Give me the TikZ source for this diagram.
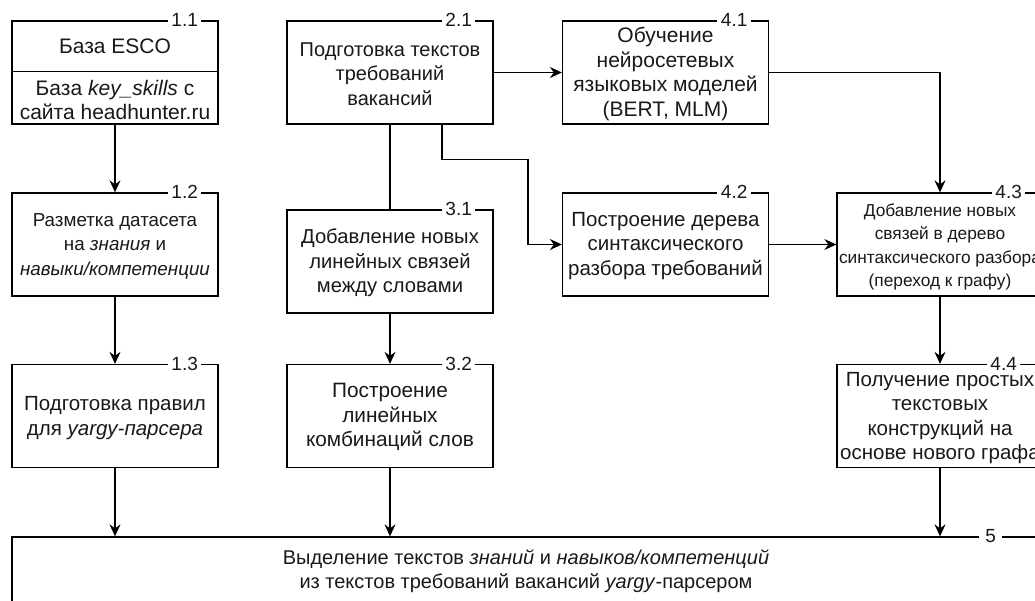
\documentclass[tikz,border=0pt]{standalone}
\usepackage{fontspec}
\setmainfont{Liberation Sans}
\usetikzlibrary{arrows.meta,calc}
\begin{document}
\begin{tikzpicture}[x=1pt,y=-1pt,
  box/.style={draw=black,line width=1.3pt,minimum width=206pt,minimum height=103pt,inner sep=0pt,anchor=center},
  txt/.style={align=center,font=\fontsize{20.5}{24.5}\selectfont,text=black!90,inner sep=0pt},
  numlbl/.style={fill=white,inner xsep=3.5pt,inner ysep=1pt,font=\fontsize{19}{19}\selectfont,text=black!90},
  link/.style={line width=1.3pt,draw=black},
  arr/.style={link,-{Stealth[length=12pt,width=11pt,inset=4pt]}}
]
\clip (0,0) rectangle (1035,600);
\fill[white] (0,0) rectangle (1035,600);
% boxes
\node[box] (b11) at (115,72.5) {};
\node[box] (b21) at (390,72.5) {};
\node[box] (b41) at (665.5,72.5) {};
\node[box] (b12) at (115,244.5) {};
\node[box] (b31) at (390,261.5) {};
\node[box] (b42) at (665.5,244.5) {};
\node[box] (b43) at (940,244.5) {};
\node[box] (b13) at (115,416) {};
\node[box] (b32) at (390,416) {};
\node[box] (b44) at (940,416) {};
\node[box,minimum width=1028pt,minimum height=70pt] (b5) at (526,572) {};
% divider in 1.1
\coordinate (d11w) at ($(b11.north west)+(0,51)$);
\coordinate (d11e) at ($(b11.north east)+(0,51)$);
\draw[link] (d11w) -- (d11e);
% texts
\node[txt,font=\fontsize{21}{24}\selectfont] (t11a) at (115,46) {База ESCO};
\node[txt,font=\fontsize{21}{24}\selectfont] (t11b) at (115,100) {База \textit{key\_skills} с\\сайта headhunter.ru};
\node[txt,font=\fontsize{20}{24.5}\selectfont] (t21) at (390,74) {Подготовка текстов\\требований\\вакансий};
\node[txt,font=\fontsize{21}{24.5}\selectfont] (t41) at (665.5,74) {Обучение\\нейросетевых\\языковых моделей\\(BERT, MLM)};
\node[txt,font=\fontsize{18.8}{24.5}\selectfont] (t12) at (115,246) {Разметка датасета\\на \textit{знания} и\\\textit{навыки/компетенции}};
\node[txt,font=\fontsize{20.2}{24.5}\selectfont] (t31) at (390,263) {Добавление новых\\линейных связей\\между словами};
\node[txt] (t42) at (665.5,246) {Построение дерева\\синтаксического\\разбора требований};
\node[txt,font=\fontsize{17.3}{23.3}\selectfont] (t43) at (940,247) {Добавление новых\\связей в дерево\\синтаксического разбора\\(переход к графу)};
\node[txt] (t13) at (115,418) {Подготовка правил\\для \textit{yargy-парсера}};
\node[txt,font=\fontsize{20.8}{24.5}\selectfont] (t32) at (390,417) {Построение\\линейных\\комбинаций слов};
\node[txt] (t44) at (940,418) {Получение простых\\текстовых\\конструкций на\\основе нового графа};
\node[txt,font=\fontsize{20}{24}\selectfont] (t5) at (526,571) {Выделение текстов \textit{знаний} и \textit{навыков/компетенций}\\из текстов требований вакансий \textit{yargy}-парсером};
% number labels
\node[numlbl] (n11) at ($(b11.north east)+(-34,0)$) {1.1};
\node[numlbl] (n21) at ($(b21.north east)+(-35,0)$) {2.1};
\node[numlbl] (n41) at ($(b41.north east)+(-35,0)$) {4.1};
\node[numlbl] (n12) at ($(b12.north east)+(-34,0)$) {1.2};
\node[numlbl] (n31) at ($(b31.north east)+(-35,0)$) {3.1};
\node[numlbl] (n42) at ($(b42.north east)+(-35,0)$) {4.2};
\node[numlbl] (n43) at ($(b43.north east)+(-35,0)$) {4.3};
\node[numlbl] (n13) at ($(b13.north east)+(-34,0)$) {1.3};
\node[numlbl] (n32) at ($(b32.north east)+(-35,0)$) {3.2};
\node[numlbl] (n44) at ($(b44.north east)+(-40,0)$) {4.4};
\node[numlbl,inner xsep=6pt] (n5) at ($(b5.north east)+(-50,0)$) {5};
% connectors
\draw[arr] (b21.east) -- (b41.west);
\draw[arr] (b41.east) -| (b43.north);
\coordinate (s21) at ($(b21.south)+(52,0)$);
\coordinate (e21) at ($(s21)+(0,35)$);
\coordinate (f21) at ($(e21)+(86,0)$);
\draw[arr] (s21) -- (e21) -- (f21) |- (b42.west);
\draw[link] (b21.south) -- (b31.north);
\draw[arr] (b42.east) -- (b43.west);
\draw[arr] (b43.south) -- (b44.north);
\draw[arr] (b44.south) -- (b44.south |- b5.north);
\draw[arr] (b11.south) -- (b12.north);
\draw[arr] (b12.south) -- (b13.north);
\draw[arr] (b13.south) -- (b13.south |- b5.north);
\draw[arr] (b31.south) -- (b32.north);
\draw[arr] (b32.south) -- (b32.south |- b5.north);
\end{tikzpicture}
\end{document}
